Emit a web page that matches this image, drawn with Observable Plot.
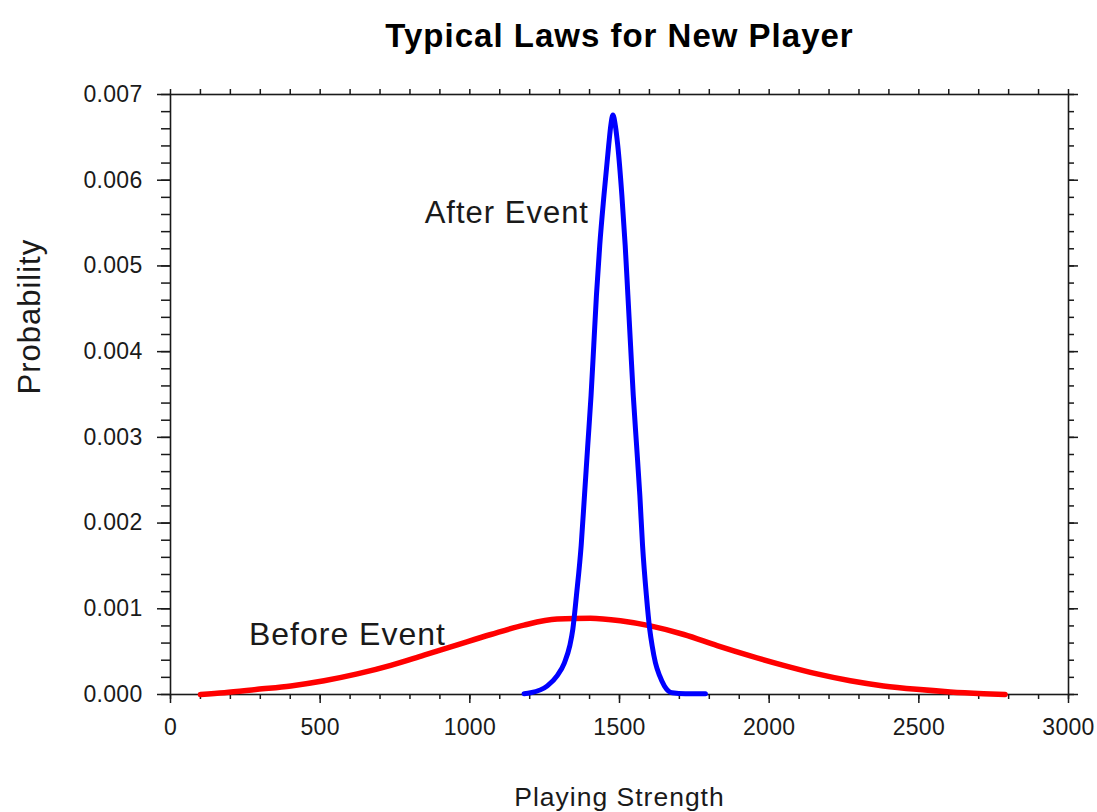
<!DOCTYPE html>
<html>
<head>
<meta charset="utf-8">
<script src="https://cdn.jsdelivr.net/npm/d3@7"></script>
<script src="https://cdn.jsdelivr.net/npm/@observablehq/plot@0.6"></script>
<style>
  html, body { margin: 0; padding: 0; background: #fff; }
  svg text { letter-spacing: 1px; }
  svg g[aria-label$="tick label"] text { letter-spacing: 0.3px; }
</style>
</head>
<body>
<div id="chart"></div>
<script>
const titleText = "Typical Laws for New Player";
const xLabel = "Playing Strength";
const yLabel = "Probability";

// Before Event (red)
const beforeX = [100, 180, 291, 402, 513, 624, 736, 847, 958, 1070, 1181, 1292, 1403, 1503, 1603, 1715, 1826, 1937, 2048, 2160, 2271, 2382, 2493, 2605, 2716, 2788];
const beforeY = [0.00000, 0.00002, 0.00006, 0.00010, 0.00016, 0.00024, 0.00034, 0.00046, 0.00058, 0.00070, 0.00081, 0.00088, 0.00089, 0.00086, 0.00080, 0.00070, 0.00057, 0.00045, 0.00034, 0.00024, 0.00016, 0.00010, 0.00006, 0.00003, 0.00001, 0.00000];

// After Event (blue)
const afterX = [1181, 1203, 1259, 1292, 1316, 1334, 1344, 1356, 1372, 1383, 1394, 1405, 1414, 1423, 1434, 1448, 1464, 1471, 1478, 1486, 1494, 1508, 1519, 1528, 1537, 1546, 1557, 1568, 1577, 1590, 1601, 1609, 1620, 1634, 1650, 1676, 1720, 1787];
const afterY = [0.00001, 0.00002, 0.00010, 0.00022, 0.00037, 0.00057, 0.00076, 0.00115, 0.00174, 0.00232, 0.00291, 0.00349, 0.00407, 0.00466, 0.00524, 0.00582, 0.00641, 0.00664, 0.00676, 0.00664, 0.00641, 0.00582, 0.00524, 0.00466, 0.00407, 0.00349, 0.00291, 0.00232, 0.00174, 0.00115, 0.00076, 0.00057, 0.00037, 0.00022, 0.00010, 0.00002, 0.00001, 0.00001];

// annotation labels (data positions)
const labelNames = ["After Event", "Before Event"];
const labelX = [849, 262];
const labelY = [0.00562, 0.000697];

// tick values
const xMajorTicks = [0, 500, 1000, 1500, 2000, 2500, 3000];
const xMinorTicks = d3.range(0, 3001, 100);
const yMajorTicks = [0, 0.001, 0.002, 0.003, 0.004, 0.005, 0.006, 0.007];
const yMinorTicks = d3.range(0, 36).map(i => i * 0.0002);

const before = beforeX.map((x, i) => ({x, y: beforeY[i]}));
const after = afterX.map((x, i) => ({x, y: afterY[i]}));

const ink = "#1a1a1a";
const font = "'Liberation Sans', Arial, sans-serif";

const chart = Plot.plot({
  width: 1097,
  height: 812,
  marginLeft: 170,
  marginRight: 29,
  marginTop: 94,
  marginBottom: 118,
  style: {fontFamily: font, fontSize: "23px", color: ink, background: "#fff"},
  x: {domain: [0, 3000], label: null},
  y: {domain: [0, 0.007], label: null},
  marks: [
    // minor and major ticks on all four sides
    Plot.axisX({anchor: "bottom", ticks: xMinorTicks, tickSize: 5, tickFormat: () => "", strokeWidth: 1.5, label: null}),
    Plot.axisX({anchor: "bottom", ticks: xMajorTicks, tickSize: 9, tickPadding: 15, tickFormat: d3.format("d"), strokeWidth: 1.5, label: null, fill: ink, fontSize: 23}),
    Plot.axisX({anchor: "top", ticks: xMinorTicks, tickSize: 6, tickFormat: () => "", strokeWidth: 1.5, label: null}),
    Plot.axisY({anchor: "left", ticks: yMinorTicks, tickSize: 9, tickFormat: () => "", strokeWidth: 1.5, label: null}),
    Plot.axisY({anchor: "left", ticks: yMajorTicks, tickSize: 13, tickPadding: 15, tickFormat: d3.format(".3f"), strokeWidth: 1.5, label: null, fill: ink, fontSize: 23}),
    Plot.axisY({anchor: "right", ticks: yMinorTicks, tickSize: 5, tickFormat: () => "", strokeWidth: 1.5, label: null}),
    Plot.axisY({anchor: "right", ticks: yMajorTicks, tickSize: 9, tickFormat: () => "", strokeWidth: 1.5, label: null}),
    Plot.frame({stroke: ink, strokeWidth: 1.6}),
    Plot.line(before, {x: "x", y: "y", stroke: "#ff0000", strokeWidth: 5.5, curve: "monotone-x"}),
    Plot.line(after, {x: "x", y: "y", stroke: "#0000ff", strokeWidth: 5, curve: "monotone-x"}),
    Plot.text([0], {x: labelX[0], y: labelY[0], text: [labelNames[0]], textAnchor: "start", lineAnchor: "middle", fontSize: 31, fill: ink}),
    Plot.text([1], {x: labelX[1], y: labelY[1], text: [labelNames[1]], textAnchor: "start", lineAnchor: "middle", fontSize: 32, fill: ink}),
    Plot.text([titleText], {frameAnchor: "top", dy: -58, text: d => d, fontSize: 33, fontWeight: "bold", fill: "#000", lineAnchor: "middle"}),
    Plot.text([xLabel], {frameAnchor: "bottom", dy: 103, text: d => d, fontSize: 26.5, fill: ink, lineAnchor: "middle"}),
    Plot.text([yLabel], {frameAnchor: "left", dx: -140, rotate: -90, text: d => d, fontSize: 31, fill: ink, lineAnchor: "middle"})
  ]
});
document.getElementById("chart").appendChild(chart);
</script>
</body>
</html>
